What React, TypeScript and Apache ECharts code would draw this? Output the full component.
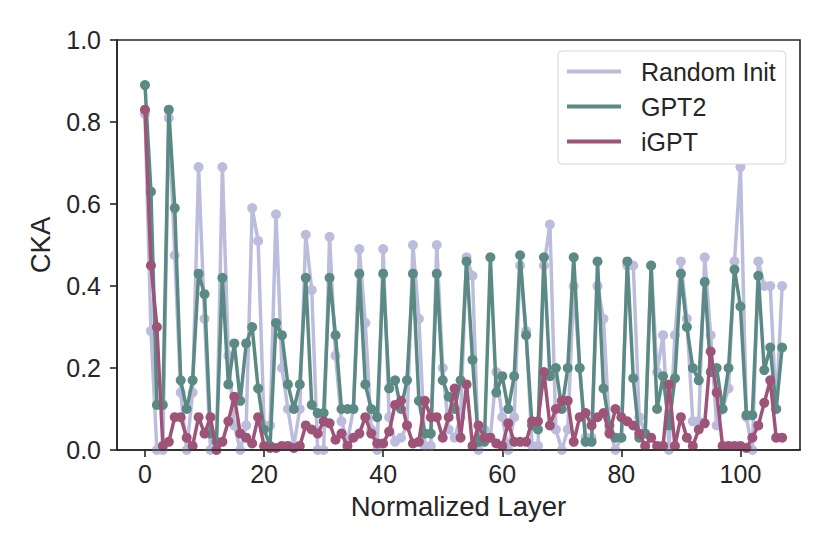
import React, { useEffect, useRef } from "react";
import * as echarts from "echarts";

const layers = [
  0, 1, 2, 3, 4, 5, 6, 7, 8, 9, 10, 11, 12, 13, 14, 15, 16, 17, 18, 19,
  20, 21, 22, 23, 24, 25, 26, 27, 28, 29, 30, 31, 32, 33, 34, 35, 36, 37, 38, 39,
  40, 41, 42, 43, 44, 45, 46, 47, 48, 49, 50, 51, 52, 53, 54, 55, 56, 57, 58, 59,
  60, 61, 62, 63, 64, 65, 66, 67, 68, 69, 70, 71, 72, 73, 74, 75, 76, 77, 78, 79,
  80, 81, 82, 83, 84, 85, 86, 87, 88, 89, 90, 91, 92, 93, 94, 95, 96, 97, 98, 99,
  100, 101, 102, 103, 104, 105, 106, 107,
];

const randomInit = [
  0.82, 0.29, 0.0, 0.0, 0.81, 0.475, 0.14, 0.0, 0.14, 0.69,
  0.32, 0.0, 0.0, 0.69, 0.23, 0.06, 0.0, 0.06, 0.59, 0.51,
  0.06, 0.06, 0.575, 0.2, 0.1, 0.01, 0.1, 0.525, 0.39, 0.0,
  0.0, 0.52, 0.23, 0.07, 0.02, 0.1, 0.49, 0.31, 0.05, 0.0,
  0.49, 0.08, 0.02, 0.03, 0.06, 0.5, 0.32, 0.01, 0.01, 0.5,
  0.2, 0.05, 0.03, 0.08, 0.47, 0.425, 0.0, 0.05, 0.03, 0.19,
  0.08, 0.0, 0.08, 0.45, 0.29, 0.01, 0.01, 0.45, 0.55, 0.05,
  0.0, 0.05, 0.4, 0.2, 0.03, 0.03, 0.4, 0.32, 0.05, 0.0,
  0.03, 0.45, 0.45, 0.08, 0.04, 0.45, 0.19, 0.28, 0.0, 0.28,
  0.46, 0.32, 0.07, 0.07, 0.47, 0.28, 0.06, 0.1, 0.15, 0.46,
  0.69, 0.08, 0.0, 0.46, 0.4, 0.4, 0.1, 0.4,
];

const gpt2 = [
  0.89, 0.63, 0.11, 0.11, 0.83, 0.59, 0.17, 0.1, 0.17, 0.43,
  0.38, 0.04, 0.02, 0.42, 0.16, 0.26, 0.12, 0.26, 0.3, 0.15,
  0.05, 0.01, 0.31, 0.28, 0.16, 0.1, 0.16, 0.42, 0.11, 0.09,
  0.09, 0.42, 0.28, 0.1, 0.1, 0.1, 0.43, 0.16, 0.1, 0.08,
  0.43, 0.15, 0.17, 0.1, 0.17, 0.43, 0.12, 0.04, 0.04, 0.43,
  0.17, 0.13, 0.1, 0.17, 0.46, 0.22, 0.02, 0.02, 0.47, 0.14,
  0.18, 0.1, 0.18, 0.475, 0.28, 0.06, 0.05, 0.47, 0.18, 0.2,
  0.1, 0.2, 0.47, 0.2, 0.02, 0.02, 0.46, 0.15, 0.06, 0.03,
  0.03, 0.46, 0.175, 0.03, 0.04, 0.45, 0.1, 0.18, 0.06, 0.175,
  0.43, 0.3, 0.2, 0.17, 0.41, 0.19, 0.2, 0.1, 0.2, 0.44,
  0.35, 0.085, 0.085, 0.425, 0.195, 0.25, 0.1, 0.25,
];

const igpt = [
  0.83, 0.45, 0.3, 0.01, 0.02, 0.08, 0.08, 0.03, 0.01, 0.08,
  0.04, 0.08, 0.0, 0.02, 0.07, 0.13, 0.04, 0.03, 0.016, 0.08,
  0.01, 0.005, 0.005, 0.01, 0.01, 0.005, 0.01, 0.06, 0.05, 0.04,
  0.07, 0.065, 0.025, 0.04, 0.01, 0.03, 0.04, 0.08, 0.04, 0.016,
  0.016, 0.045, 0.11, 0.12, 0.06, 0.016, 0.02, 0.12, 0.08, 0.08,
  0.03, 0.08, 0.15, 0.03, 0.16, 0.01, 0.06, 0.03, 0.03, 0.016,
  0.01, 0.065, 0.02, 0.02, 0.02, 0.07, 0.07, 0.19, 0.06, 0.1,
  0.12, 0.12, 0.02, 0.08, 0.09, 0.06, 0.08, 0.09, 0.04, 0.1,
  0.08, 0.07, 0.06, 0.04, 0.01, 0.03, 0.01, 0.01, 0.16, 0.01,
  0.08, 0.03, 0.01, 0.05, 0.065, 0.24, 0.14, 0.01, 0.01, 0.01,
  0.01, 0.005, 0.03, 0.06, 0.115, 0.17, 0.03, 0.03,
];

const xTicks = [0, 20, 40, 60, 80, 100];
const seriesNames = ["Random Init", "GPT2", "iGPT"];
const seriesColors = ["#bcbcdd", "#5b8a85", "#9e5478"];

const FONT = "Liberation Sans, Arial, Helvetica, sans-serif";
const INK = "#262626";

export default function App() {
  const ref = useRef<HTMLDivElement>(null);

  useEffect(() => {
    if (!ref.current) return;
    const chart = echarts.init(ref.current, null, { renderer: "svg" });
    const allData = [randomInit, gpt2, igpt];
    const series = seriesNames.map((name, k) => ({
      name,
      type: "line",
      data: layers.map((x, i) => [x, allData[k][i]]),
      symbol: "circle",
      symbolSize: 10,
      showSymbol: true,
      clip: true,
      z: 2 + k,
      lineStyle: { color: seriesColors[k], width: 3.5 },
      itemStyle: { color: seriesColors[k] },
      emphasis: { disabled: true },
    }));

    chart.setOption({
      animation: false,
      backgroundColor: "#ffffff",
      textStyle: { fontFamily: FONT, color: INK },
      grid: { left: 117, right: 30, top: 40, bottom: 104, show: false },
      legend: {
        data: seriesNames.map((n) => ({ name: n })),
        orient: "vertical",
        left: 558,
        top: 51,
        padding: [6, 10, 8, 9],
        itemGap: 6,
        itemWidth: 54,
        itemHeight: 4,
        icon: "rect",
        backgroundColor: "#ffffff",
        borderColor: "#d6d6d6",
        borderWidth: 1,
        borderRadius: 4,
        textStyle: {
          fontFamily: FONT,
          fontSize: 25,
          color: INK,
          lineHeight: 29,
          padding: [0, 0, 0, 15],
        },
      },
      xAxis: {
        type: "value",
        min: -4.7,
        max: 110,
        name: "Normalized Layer",
        nameLocation: "middle",
        nameGap: 42,
        nameTextStyle: { fontFamily: FONT, fontSize: 27.5, color: INK },
        axisLine: { show: true, onZero: false, lineStyle: { color: INK, width: 1.6 } },
        axisTick: { show: true, length: 7, customValues: xTicks, lineStyle: { color: INK, width: 1.6 } },
        axisLabel: {
          customValues: xTicks,
          margin: 11,
          fontFamily: FONT,
          fontSize: 25,
          color: INK,
        },
        splitLine: { show: false },
      },
      yAxis: {
        type: "value",
        min: 0,
        max: 1,
        interval: 0.2,
        name: "CKA",
        nameLocation: "middle",
        nameGap: 63,
        nameTextStyle: { fontFamily: FONT, fontSize: 27.5, color: INK },
        axisLine: { show: true, onZero: false, lineStyle: { color: INK, width: 1.6 } },
        axisTick: { show: true, length: 7, lineStyle: { color: INK, width: 1.6 } },
        axisLabel: {
          margin: 16,
          fontFamily: FONT,
          fontSize: 25,
          color: INK,
          formatter: (v: number) => v.toFixed(1),
        },
        splitLine: { show: false },
      },
      graphic: [
        {
          type: "rect",
          z: 100,
          silent: true,
          shape: { x: 117, y: 40, width: 683, height: 410 },
          style: { fill: "none", stroke: INK, lineWidth: 1.6 },
        },
      ],
      series,
    });

    return () => chart.dispose();
  }, []);

  return (
    <div
      ref={ref}
      style={{ position: "absolute", left: 0, top: 0, width: 830, height: 554 }}
    />
  );
}
